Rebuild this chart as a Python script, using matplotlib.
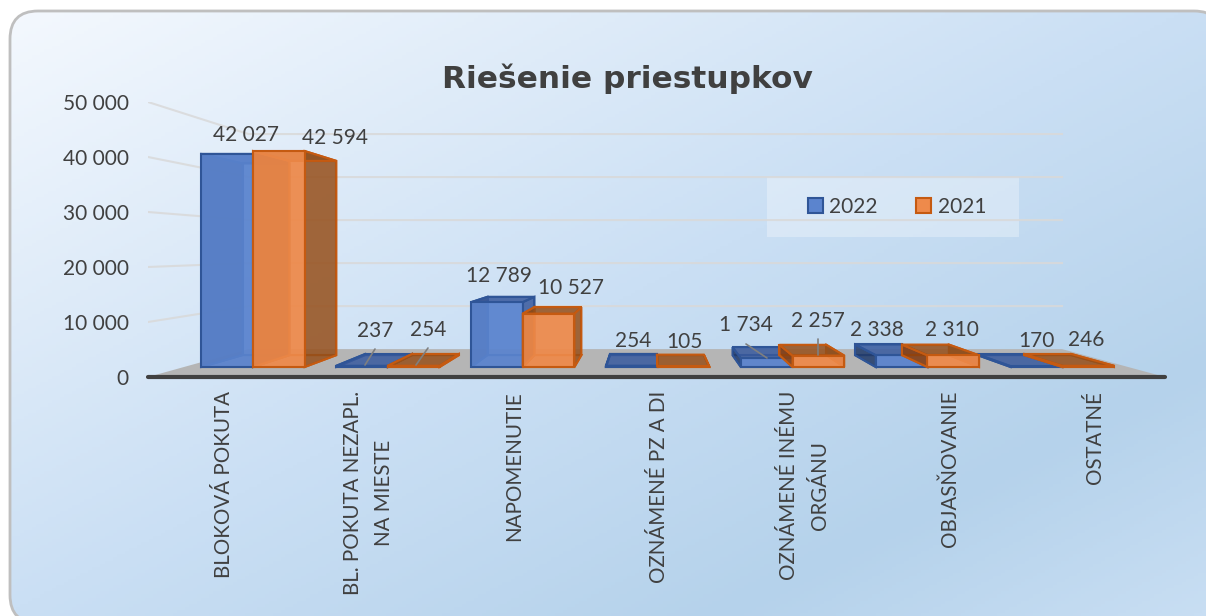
import numpy as np
import matplotlib
matplotlib.use('Agg')
import matplotlib.pyplot as plt
from matplotlib.colors import LinearSegmentedColormap, to_rgba
from matplotlib.patches import Patch, PathPatch, Polygon, Rectangle
from matplotlib.path import Path
from matplotlib.ticker import FuncFormatter

categories = ['BLOKOVÁ POKUTA', 'BL. POKUTA NEZAPL.\nNA MIESTE', 'NAPOMENUTIE', 'OZNÁMENÉ PZ A DI',
              'OZNÁMENÉ INÉMU\nORGÁNU', 'OBJASŇOVANIE', 'OSTATNÉ']
values_2022 = [42027, 237, 12789, 254, 1734, 2338, 170]
values_2021 = [42594, 254, 10527, 105, 2257, 2310, 246]
y_ticks = [0, 10000, 20000, 30000, 40000, 50000]

W, H = 1206, 616
# label centres and leader lines in reference pixels
label_pos_2022 = [(246, 135), (375, 331), (499, 276), (633, 341), (746, 325), (877, 330), (1036, 341)]
label_pos_2021 = [(335, 138), (428, 330), (571, 288), (684, 342), (818, 321), (952, 330), (1086, 340)]
leaders = [((375, 349), (365, 365)), ((428, 348), (416, 365)), ((746, 344), (767, 358)), ((818, 339), (818, 355))]

TXT = '#404040'
plt.rcParams['font.family'] = ['Lato', 'DejaVu Sans']

fig = plt.figure(figsize=(W / 100, H / 100), dpi=100, facecolor='white')

# background card with diagonal gradient
bg = fig.add_axes([0, 0, 1, 1], zorder=0)
bg.set_xlim(0, W)
bg.set_ylim(H, 0)
bg.axis('off')
xx, yy = np.meshgrid(np.linspace(0, 1, 300), np.linspace(0, 1, 200))
cmap = LinearSegmentedColormap.from_list('card', [(0, '#F5F9FE'), (.5, '#CADFF4'), (.8, '#B5D2EB'), (1, '#C8DEF3')])
img = bg.imshow((xx + yy) / 2, cmap=cmap, vmin=0, vmax=1, extent=(0, W, H, 0), aspect='auto')
x0, y0, x1, y1, r = 10, 11, 1222, 623, 28
MO, LI, C3, CL = Path.MOVETO, Path.LINETO, Path.CURVE3, Path.CLOSEPOLY
card_path = Path([(x0 + r, y0), (x1 - r, y0), (x1, y0), (x1, y0 + r), (x1, y1 - r), (x1, y1), (x1 - r, y1),
                  (x0 + r, y1), (x0, y1), (x0, y1 - r), (x0, y0 + r), (x0, y0), (x0 + r, y0), (x0 + r, y0)],
                 [MO, LI, C3, C3, LI, C3, C3, LI, C3, C3, LI, C3, C3, CL])
# tiny face alpha: agg mangles curves of edge-only paths that leave the canvas
card = PathPatch(card_path, fc=(1, 1, 1, 0.004), ec='#BFBFBF', lw=2)
bg.add_patch(card)
img.set_clip_path(card)
# legend plate sits under the bars' layer
bg.add_patch(Rectangle((767, 177), 252, 60, fc='white', alpha=.3, ec='none', zorder=5))

# value/category scale is the front edge of the floor
ax = fig.add_axes([148 / W, 1 - 377 / H, 1017 / W, 275 / H], zorder=1)
ax.patch.set_alpha(0)
ax.set_xlim(0, 7)
ax.set_ylim(0, 50000)
for s in ax.spines.values():
    s.set_visible(False)

# simple perspective towards a vanishing point
vx, vv = (650 - 148) / 1017 * 7, (377 - 249) / 275 * 50000
BACK_X, BACK_Y = 0.20, 0.218


def proj(x, v, d):
    return vx + (x - vx) * (1 - BACK_X * d), vv + (v - vv) * (1 - BACK_Y * d)


def face(pts, fc, alpha, ec, z):
    ax.add_patch(Polygon([proj(*p) for p in pts], closed=True, fc=to_rgba(fc, alpha),
                         ec=ec, lw=1.5, joinstyle='miter', zorder=z))


def box(xa, xb, v, fc, dark, side, darker, z):
    d0, d1 = 0.358, 0.784
    face([(xa, 0, d1), (xb, 0, d1), (xb, v, d1), (xa, v, d1)], fc, .4, dark, z)
    face([(xa, 0, d0), (xb, 0, d0), (xb, 0, d1), (xa, 0, d1)], fc, .4, dark, z)
    face([(xa, 0, d0), (xa, v, d0), (xa, v, d1), (xa, 0, d1)], darker, .8, dark, z)
    face([(xb, 0, d0), (xb, v, d0), (xb, v, d1), (xb, 0, d1)], side, .8, dark, z)
    face([(xa, v, d0), (xb, v, d0), (xb, v, d1), (xa, v, d1)], side, .8, dark, z)
    face([(xa, 0, d0), (xb, 0, d0), (xb, v, d0), (xa, v, d0)], fc, .9, dark, z)


# floor and walls
ax.add_patch(Polygon([proj(0, 0, 0), proj(7, 0, 0), proj(7, 0, 1), proj(0, 0, 1)], closed=True, fc='#B5B5B5', ec='none', zorder=1))
for t in y_ticks[1:]:
    xa, ya = proj(0, t, 0)
    xb, yb = proj(0, t, 1)
    xc, yc = proj(7, t, 1)
    ax.plot([xa, xb, xc], [ya, yb, yc], color='#D9D9D9', lw=1.5, alpha=.85, zorder=1, solid_joinstyle='miter')
ax.plot([0, 7], [0, 0], color='#404040', lw=3, zorder=5, clip_on=False, solid_capstyle='round')

w = 0.383
for i in range(len(categories)):
    c = i + .512
    box(c - w, c, values_2022[i], '#5B84CE', '#2F5597', '#3A5A9C', '#203864', 3)
    box(c, c + w, values_2021[i], '#EE8A4B', '#C55A11', '#8F4E1C', '#843C0C', 4)

ax.set_yticks(y_ticks)
ax.yaxis.set_major_formatter(FuncFormatter(lambda v, p: f'{int(v):,}'.replace(',', ' ')))
ax.set_xticks(np.arange(len(categories)) + .52)
ax.set_xticklabels(categories, rotation=90, ha='center', va='top', linespacing=1.7)
ax.tick_params(axis='y', length=0, pad=14, labelsize=15, labelcolor=TXT)
ax.tick_params(axis='x', length=0, pad=10, labelsize=14.8, labelcolor=TXT)

for a, b in leaders:
    ax.annotate('', xy=(b[0], H - b[1]), xytext=(a[0], H - a[1]), xycoords='figure pixels', textcoords='figure pixels',
                arrowprops=dict(arrowstyle='-', color='#7F7F7F', lw=1.2, shrinkA=0, shrinkB=0), zorder=6)

for vals, pos in ((values_2022, label_pos_2022), (values_2021, label_pos_2021)):
    for v, (px, py) in zip(vals, pos):
        ax.annotate(f'{v:,}'.replace(',', ' '), xy=(px, H - py), xycoords='figure pixels', ha='center', va='center',
                    fontsize=15, color=TXT, zorder=7)

fig.text(627 / W, 1 - 88 / H, 'Riešenie priestupkov', family='DejaVu Sans', fontweight='bold', fontsize=22.5, color=TXT,
         ha='center', va='baseline', zorder=8)

# legend
handles = [Patch(fc='#5B84CE', ec='#2F5597', lw=1.5, label='2022'), Patch(fc='#EE8A4B', ec='#C55A11', lw=1.5, label='2021')]
leg = ax.legend(handles=handles, ncol=2, loc='center', bbox_to_anchor=(897 / W, 1 - 207 / H), bbox_transform=fig.transFigure,
                frameon=False, fontsize=15, labelcolor=TXT, handlelength=.72, handleheight=.72,
                handletextpad=.3, columnspacing=1.85, borderpad=0, borderaxespad=0)
leg.set_zorder(2)

fig.savefig('out.png', dpi=100)
